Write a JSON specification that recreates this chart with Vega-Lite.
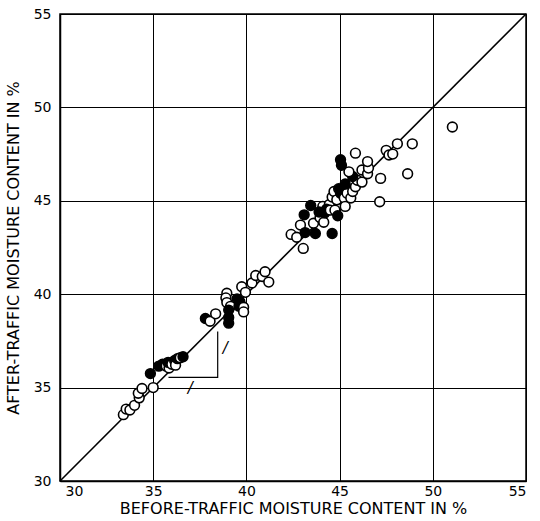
{
  "$schema": "https://vega.github.io/schema/vega-lite/v6.json",
  "width": 466,
  "height": 467,
  "autosize": "none",
  "padding": {"left": 60, "top": 14, "right": 14, "bottom": 40},
  "background": "white",
  "config": {
    "view": {"stroke": "black", "strokeWidth": 1.5},
    "font": "DejaVu Sans",
    "axis": {
      "grid": true,
      "gridColor": "black",
      "gridWidth": 1,
      "gridOpacity": 1,
      "domainColor": "black",
      "domainWidth": 1.5,
      "ticks": false,
      "labelFont": "DejaVu Sans",
      "labelFontSize": 14,
      "labelColor": "black",
      "titleFont": "DejaVu Sans",
      "titleFontSize": 16,
      "titleFontWeight": "normal",
      "titleColor": "black"
    }
  },
  "datasets": {
    "points": [
      {"before": 33.4, "after": 33.55, "kind": "open"},
      {"before": 33.55, "after": 33.85, "kind": "open"},
      {"before": 33.75, "after": 33.8, "kind": "open"},
      {"before": 34.0, "after": 34.05, "kind": "open"},
      {"before": 34.25, "after": 34.45, "kind": "open"},
      {"before": 34.2, "after": 34.7, "kind": "open"},
      {"before": 34.4, "after": 34.95, "kind": "open"},
      {"before": 35.0, "after": 35.0, "kind": "open"},
      {"before": 34.85, "after": 35.75, "kind": "filled"},
      {"before": 35.3, "after": 36.15, "kind": "filled"},
      {"before": 35.5, "after": 36.25, "kind": "filled"},
      {"before": 35.7, "after": 36.15, "kind": "open"},
      {"before": 35.85, "after": 36.05, "kind": "open"},
      {"before": 35.8, "after": 36.35, "kind": "filled"},
      {"before": 36.0, "after": 36.25, "kind": "open"},
      {"before": 36.15, "after": 36.45, "kind": "filled"},
      {"before": 36.2, "after": 36.2, "kind": "open"},
      {"before": 36.3, "after": 36.55, "kind": "filled"},
      {"before": 36.45, "after": 36.6, "kind": "open"},
      {"before": 36.6, "after": 36.65, "kind": "filled"},
      {"before": 37.8, "after": 38.7, "kind": "filled"},
      {"before": 38.05, "after": 38.55, "kind": "open"},
      {"before": 38.35, "after": 38.95, "kind": "open"},
      {"before": 38.95, "after": 40.05, "kind": "open"},
      {"before": 38.9, "after": 39.8, "kind": "open"},
      {"before": 38.95, "after": 39.55, "kind": "open"},
      {"before": 39.15, "after": 39.35, "kind": "open"},
      {"before": 39.05, "after": 39.15, "kind": "filled"},
      {"before": 39.05, "after": 38.75, "kind": "filled"},
      {"before": 39.05, "after": 38.45, "kind": "filled"},
      {"before": 39.5, "after": 39.75, "kind": "filled"},
      {"before": 39.65, "after": 39.6, "kind": "filled"},
      {"before": 39.6, "after": 39.35, "kind": "filled"},
      {"before": 39.85, "after": 39.3, "kind": "open"},
      {"before": 39.85, "after": 39.05, "kind": "open"},
      {"before": 39.75, "after": 40.4, "kind": "open"},
      {"before": 39.95, "after": 40.1, "kind": "open"},
      {"before": 40.3, "after": 40.6, "kind": "open"},
      {"before": 40.5, "after": 41.0, "kind": "open"},
      {"before": 40.85, "after": 40.95, "kind": "open"},
      {"before": 41.0, "after": 41.2, "kind": "open"},
      {"before": 41.2, "after": 40.65, "kind": "open"},
      {"before": 42.4, "after": 43.2, "kind": "open"},
      {"before": 42.7, "after": 43.05, "kind": "open"},
      {"before": 42.9, "after": 43.7, "kind": "open"},
      {"before": 43.05, "after": 42.45, "kind": "open"},
      {"before": 43.1, "after": 44.25, "kind": "filled"},
      {"before": 43.15, "after": 43.3, "kind": "filled"},
      {"before": 43.45, "after": 44.75, "kind": "filled"},
      {"before": 43.6, "after": 43.8, "kind": "open"},
      {"before": 43.7, "after": 43.25, "kind": "filled"},
      {"before": 43.95, "after": 44.1, "kind": "open"},
      {"before": 44.15, "after": 43.85, "kind": "open"},
      {"before": 44.1, "after": 44.7, "kind": "open"},
      {"before": 43.9, "after": 44.4, "kind": "filled"},
      {"before": 44.2, "after": 44.35, "kind": "filled"},
      {"before": 44.45, "after": 44.8, "kind": "open"},
      {"before": 44.3, "after": 44.55, "kind": "filled"},
      {"before": 44.5, "after": 44.5, "kind": "open"},
      {"before": 44.6, "after": 43.25, "kind": "filled"},
      {"before": 44.75, "after": 44.5, "kind": "open"},
      {"before": 44.6, "after": 45.2, "kind": "open"},
      {"before": 44.7, "after": 45.5, "kind": "open"},
      {"before": 44.85, "after": 45.05, "kind": "open"},
      {"before": 44.95, "after": 45.65, "kind": "filled"},
      {"before": 45.05, "after": 45.4, "kind": "filled"},
      {"before": 44.9, "after": 44.2, "kind": "filled"},
      {"before": 45.25, "after": 45.15, "kind": "open"},
      {"before": 45.3, "after": 44.7, "kind": "open"},
      {"before": 45.4, "after": 45.4, "kind": "open"},
      {"before": 45.3, "after": 45.9, "kind": "filled"},
      {"before": 45.6, "after": 45.15, "kind": "open"},
      {"before": 45.7, "after": 45.5, "kind": "open"},
      {"before": 45.85, "after": 45.75, "kind": "open"},
      {"before": 45.95, "after": 46.1, "kind": "open"},
      {"before": 45.7, "after": 46.3, "kind": "filled"},
      {"before": 45.5, "after": 46.55, "kind": "open"},
      {"before": 46.2, "after": 46.0, "kind": "open"},
      {"before": 46.2, "after": 46.65, "kind": "open"},
      {"before": 46.5, "after": 46.45, "kind": "open"},
      {"before": 46.55, "after": 46.75, "kind": "open"},
      {"before": 46.5, "after": 47.1, "kind": "open"},
      {"before": 45.1, "after": 46.9, "kind": "filled"},
      {"before": 45.05, "after": 47.2, "kind": "filled"},
      {"before": 45.85, "after": 47.55, "kind": "open"},
      {"before": 47.2, "after": 46.2, "kind": "open"},
      {"before": 47.15, "after": 44.95, "kind": "open"},
      {"before": 47.5, "after": 47.7, "kind": "open"},
      {"before": 47.65, "after": 47.45, "kind": "open"},
      {"before": 47.85, "after": 47.5, "kind": "open"},
      {"before": 48.1, "after": 48.05, "kind": "open"},
      {"before": 48.9, "after": 48.05, "kind": "open"},
      {"before": 48.65, "after": 46.45, "kind": "open"},
      {"before": 51.05, "after": 48.95, "kind": "open"}
    ],
    "equality": [
      {"before": 30, "after": 30},
      {"before": 55, "after": 55}
    ],
    "slope": [
      {"before": 35.82, "after": 35.55, "order": 1},
      {"before": 38.46, "after": 35.55, "order": 2},
      {"before": 38.46, "after": 38.0, "order": 3}
    ],
    "slopeLabels": [
      {"before": 36.99, "after": 35.0, "label": "/"},
      {"before": 38.87, "after": 37.1, "label": "/"}
    ]
  },
  "encoding": {
    "x": {
      "field": "before",
      "type": "quantitative",
      "scale": {"domain": [30, 55], "nice": false, "zero": false},
      "axis": {
        "title": "BEFORE-TRAFFIC MOISTURE CONTENT IN %",
        "values": [30, 35, 40, 45, 50, 55],
        "labelPadding": 3,
        "titlePadding": 2,
        "labelOffset": {"expr": "datum.value == 30 ? 5 : 0"}
      }
    },
    "y": {
      "field": "after",
      "type": "quantitative",
      "scale": {"domain": [30, 55], "nice": false, "zero": false},
      "axis": {
        "title": "AFTER-TRAFFIC MOISTURE CONTENT IN %",
        "values": [30, 35, 40, 45, 50, 55],
        "labelPadding": 9,
        "titlePadding": 12
      }
    }
  },
  "layer": [
    {
      "data": {"name": "equality"},
      "mark": {"type": "line", "color": "black", "strokeWidth": 1.6},
      "encoding": {}
    },
    {
      "data": {"name": "slope"},
      "mark": {"type": "line", "color": "black", "strokeWidth": 1.2},
      "encoding": {"order": {"field": "order", "type": "quantitative"}}
    },
    {
      "data": {"name": "slopeLabels"},
      "mark": {"type": "text", "fontSize": 15, "fontStyle": "italic", "color": "black"},
      "encoding": {"text": {"field": "label"}}
    },
    {
      "data": {"name": "points"},
      "mark": {"type": "point", "shape": "circle", "size": 95, "strokeWidth": 1.6, "opacity": 1},
      "encoding": {
        "fill": {
          "field": "kind",
          "type": "nominal",
          "scale": {"domain": ["open", "filled"], "range": ["white", "black"]},
          "legend": null
        },
        "stroke": {"value": "black"}
      }
    }
  ]
}
